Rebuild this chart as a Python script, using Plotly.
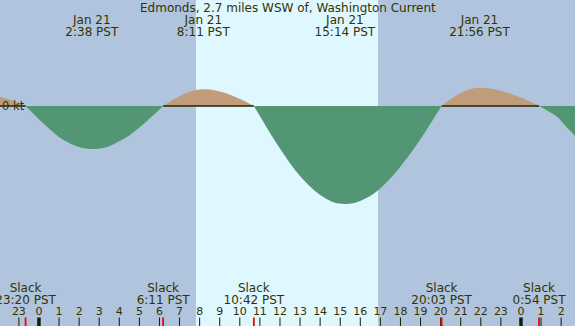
import plotly.graph_objects as go

TITLE = "Edmonds, 2.7 miles WSW of, Washington Current"

# Current curve (hours since Jan 21 00:00 PST, knots; + flood, - ebb)
curve_hours = [-1.94, -1.5, -1.0, -0.667,
               -0.25, 0.25, 0.75, 1.25, 1.75, 2.25, 2.633, 3.0, 3.5, 4.0, 4.5, 5.0, 5.5, 5.9, 6.183,
               6.6, 7.0, 7.5, 8.0, 8.183, 8.6, 9.1, 9.6, 10.1, 10.7,
               11.2, 11.7, 12.2, 12.7, 13.2, 13.7, 14.2, 14.7, 15.233, 15.7, 16.2, 16.7, 17.2, 17.7,
               18.2, 18.7, 19.2, 19.6, 20.05,
               20.4, 20.8, 21.2, 21.6, 21.933, 22.4, 22.9, 23.4, 23.9, 24.4, 24.9,
               25.3, 25.8, 26.2, 26.69]
curve_knots = [0.19, 0.13, 0.06, 0.0,
               -0.17, -0.37, -0.55, -0.70, -0.80, -0.865, -0.88, -0.87, -0.82, -0.72, -0.60, -0.44, -0.26, -0.11, 0.0,
               0.11, 0.20, 0.29, 0.337, 0.34, 0.33, 0.285, 0.215, 0.125, 0.0,
               -0.34, -0.68, -0.99, -1.28, -1.52, -1.72, -1.87, -1.97, -2.0, -1.98, -1.90, -1.78, -1.60, -1.39,
               -1.13, -0.85, -0.55, -0.29, 0.0,
               0.11, 0.22, 0.30, 0.356, 0.37, 0.36, 0.32, 0.26, 0.19, 0.10, 0.0,
               -0.09, -0.22, -0.40, -0.61]

# Max flood / ebb events (top labels)
extreme_hours = [-3.117, 2.633, 8.183, 15.233, 21.933]
extreme_dates = ["Jan 20", "Jan 21", "Jan 21", "Jan 21", "Jan 21"]
extreme_times = ["20:53 PST", "2:38 PST", "8:11 PST", "15:14 PST", "21:56 PST"]

# Slack events (bottom labels)
slack_hours = [-0.667, 6.183, 10.7, 20.05, 24.9]
slack_times = ["23:20 PST", "6:11 PST", "10:42 PST", "20:03 PST", "0:54 PST"]

# Hour ticks
hour_ticks = list(range(-2, 27))
hour_labels = [str(h % 24) for h in hour_ticks]
midnight_ticks = [0, 24]

sunrise_hour = 7.817
sunset_hour = 16.883

X_RANGE = [-1.94, 26.69]
Y_RANGE = [-4.49, 2.163]
FIG_W, FIG_H = 575, 326

NIGHT = "#B0C4DE"
DAY = "#DFF7FE"
EBB = "#529673"
FLOOD = "#C09C7A"
TEXT = "#333300"
FONT = "DejaVu Sans"

fig = go.Figure()

# split curve into slack-to-slack segments
segments = []
cur = []
for h, v in zip(curve_hours, curve_knots):
    cur.append((h, v))
    if v == 0 and len(cur) > 1:
        segments.append(cur)
        cur = [(h, v)]
if len(cur) > 1:
    segments.append(cur)

flood_lines_x, flood_lines_y = [], []
for seg in segments:
    xs = [p[0] for p in seg]
    ys = [p[1] for p in seg]
    positive = max(ys) > 0
    fig.add_trace(go.Scatter(
        x=xs, y=ys, mode="lines", line=dict(width=0, shape="spline"),
        fill="tozeroy", fillcolor=FLOOD if positive else EBB,
        hoverinfo="skip", showlegend=False))
    if positive:
        flood_lines_x += [xs[0], xs[-1], None]
        flood_lines_y += [0, 0, None]

fig.add_trace(go.Scatter(x=flood_lines_x, y=flood_lines_y, mode="lines",
                         line=dict(color="#2a1f00", width=1.5),
                         hoverinfo="skip", showlegend=False))

# tick marks (y2 = pixels from bottom)
tx, ty = [], []
for h in hour_ticks:
    if h not in midnight_ticks:
        tx += [h, h, None]
        ty += [0, 8.5, None]
fig.add_trace(go.Scatter(x=tx, y=ty, yaxis="y2", mode="lines",
                         line=dict(color="#1a1a00", width=1), hoverinfo="skip",
                         showlegend=False, cliponaxis=False))
mx, my = [], []
for h in midnight_ticks:
    mx += [h, h, None]
    my += [0, 8.5, None]
fig.add_trace(go.Scatter(x=mx, y=my, yaxis="y2", mode="lines",
                         line=dict(color="#1a1a00", width=3.5), hoverinfo="skip",
                         showlegend=False))
sx, sy = [], []
for h in slack_hours:
    sx += [h, h, None]
    sy += [0, 8.5, None]
fig.add_trace(go.Scatter(x=sx, y=sy, yaxis="y2", mode="lines",
                         line=dict(color="#ff0000", width=1.8), hoverinfo="skip",
                         showlegend=False, cliponaxis=False))

def text_trace(xs, texts, ypix, size):
    fig.add_trace(go.Scatter(
        x=xs, y=[ypix] * len(xs), yaxis="y2", mode="text", text=texts,
        textposition="middle center", textfont=dict(family=FONT, size=size, color=TEXT),
        hoverinfo="skip", showlegend=False, cliponaxis=False))

text_trace(hour_ticks, hour_labels, FIG_H - 312, 11)
text_trace(slack_hours, ["Slack"] * len(slack_hours), FIG_H - 289.2, 12)
text_trace(slack_hours, slack_times, FIG_H - 300.5, 12)
text_trace(extreme_hours, extreme_dates, FIG_H - 21, 12)
text_trace(extreme_hours, extreme_times, FIG_H - 33.2, 12)

fig.add_annotation(text=TITLE, xref="paper", yref="paper", x=0.5, y=1 - 8.3 / FIG_H,
                   xanchor="center", yanchor="middle", showarrow=False,
                   font=dict(family=FONT, size=12, color=TEXT))
fig.add_annotation(text="0 kt", xref="paper", yref="y", x=0, y=0,
                   xanchor="left", yanchor="middle", showarrow=False,
                   font=dict(family=FONT, size=11.5, color=TEXT))

fig.add_shape(type="rect", xref="x", yref="paper", x0=sunrise_hour, x1=sunset_hour,
              y0=0, y1=1, fillcolor=DAY, line=dict(width=0), layer="below")

fig.update_layout(
    width=FIG_W, height=FIG_H, margin=dict(l=0, r=0, t=0, b=0),
    paper_bgcolor=NIGHT, plot_bgcolor=NIGHT,
    xaxis=dict(range=X_RANGE, visible=False, fixedrange=True),
    yaxis=dict(range=Y_RANGE, visible=False, fixedrange=True),
    yaxis2=dict(range=[0, FIG_H], overlaying="y", visible=False, fixedrange=True),
    showlegend=False,
)

fig.write_html("out.html", config={"displayModeBar": False},
               post_script="document.body.style.margin='0';document.body.style.padding='0';"
                           "document.body.style.overflow='hidden';")
